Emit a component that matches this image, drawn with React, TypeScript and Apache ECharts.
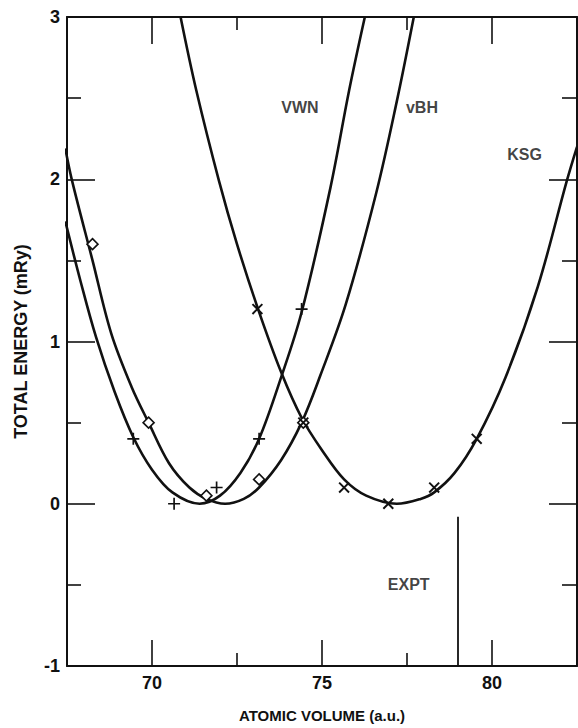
import { useEffect, useRef } from "react";
import * as echarts from "echarts";

// ---- data ----
const vwnCurve: number[][] = [
  [67.45, 1.74], [67.9, 1.37], [68.35, 1.03], [68.9, 0.69], [69.45, 0.41], [70.0, 0.21],
  [70.6, 0.07], [71.4, 0.0], [72.0, 0.05], [72.6, 0.19], [73.15, 0.4], [73.8, 0.78],
  [74.4, 1.18], [75.25, 1.95], [75.8, 2.55], [76.26, 3.0],
];
const vbhCurve: number[][] = [
  [67.45, 2.19], [67.65, 1.99], [68.25, 1.5], [68.8, 1.05], [69.4, 0.72], [69.9, 0.5],
  [70.5, 0.25], [71.1, 0.1], [71.6, 0.03], [72.15, 0.0], [72.7, 0.03], [73.15, 0.1],
  [73.8, 0.27], [74.4, 0.5], [74.95, 0.79], [75.7, 1.23], [76.6, 1.92], [77.2, 2.48], [77.7, 3.0],
];
const ksgCurve: number[][] = [
  [70.84, 3.0], [71.3, 2.55], [71.97, 1.99], [72.5, 1.6], [73.12, 1.2], [73.8, 0.81],
  [74.4, 0.53], [75.0, 0.33], [75.65, 0.15], [76.3, 0.05], [77.2, 0.0], [77.9, 0.03],
  [78.3, 0.07], [78.9, 0.19], [79.55, 0.4], [80.4, 0.78], [81.35, 1.34], [82.2, 1.99], [82.5, 2.2],
];
const vwnPoints: number[][] = [[69.45, 0.4], [70.65, 0.0], [71.9, 0.1], [73.15, 0.4], [74.4, 1.2]];
const vbhPoints: number[][] = [[68.25, 1.6], [69.9, 0.5], [71.6, 0.05], [73.15, 0.15], [74.45, 0.5]];
const ksgPoints: number[][] = [[73.1, 1.2], [74.45, 0.5], [75.65, 0.1], [76.95, 0.0], [78.3, 0.1], [79.55, 0.4]];

const curveLabels = ["VWN", "vBH", "KSG"];
const curveLabelPos: number[][] = [[74.35, 2.44], [77.94, 2.44], [80.96, 2.15]];
const exptLabel = "EXPT";
const exptLabelPos: number[] = [77.55, -0.5];
const exptLine: number[][] = [[79.0, -1], [79.0, -0.08]];

const xMajorTicks = [70, 75, 80];
const xMinorTicks = [72.5, 77.5];
const yMajorTicks = [-1, 0, 1, 2, 3];
const yMinorTicks = [-0.5, 0.5, 1.5, 2.5];

const FONT = "Liberation Sans";
const INK = "#111";

const plusPath =
  "path://M-1,-0.14L1,-0.14L1,0.14L-1,0.14Z M-0.14,-1L0.14,-1L0.14,1L-0.14,1Z";

export default function App() {
  const ref = useRef<HTMLDivElement>(null);
  useEffect(() => {
    if (!ref.current) return;
    const chart = echarts.init(ref.current, undefined, { renderer: "svg" });

    const lineStyle = { color: INK, width: 2 };
    const xBase = { type: "value", min: 67.5, max: 82.5, splitLine: { show: false }, gridIndex: 0 };
    const yBase = { type: "value", min: -1, max: 3, splitLine: { show: false }, gridIndex: 0 };
    const tickStyle = { color: INK, width: 1.6 };

    const curve = (data: number[][]) => ({
      type: "line",
      data,
      smooth: 0.35,
      showSymbol: false,
      symbol: "none",
      lineStyle: { color: INK, width: 2.6 },
      z: 2,
      silent: true,
    });

    chart.setOption({
      animation: false,
      backgroundColor: "#fff",
      grid: { left: 67, top: 17, width: 510, height: 651, containLabel: false },
      xAxis: [
        {
          ...xBase,
          position: "bottom",
          axisLine: { show: true, onZero: false, lineStyle },
          axisTick: { show: true, inside: true, length: 26, customValues: xMajorTicks, lineStyle: tickStyle },
          axisLabel: { show: true, customValues: xMajorTicks, fontFamily: FONT, fontSize: 18, fontWeight: "bold", color: INK, margin: 8 },
          name: "ATOMIC VOLUME (a.u.)",
          nameLocation: "middle",
          nameGap: 42,
          nameTextStyle: { fontFamily: FONT, fontSize: 15, fontWeight: "bold", color: INK },
        },
        {
          ...xBase,
          position: "bottom",
          axisLine: { show: false, onZero: false },
          axisTick: { show: true, inside: true, length: 13, customValues: xMinorTicks, lineStyle: tickStyle },
          axisLabel: { show: false },
        },
        {
          ...xBase,
          position: "top",
          axisLine: { show: true, onZero: false, lineStyle },
          axisTick: { show: true, inside: true, length: 27, customValues: xMajorTicks, lineStyle: tickStyle },
          axisLabel: { show: false },
        },
        {
          ...xBase,
          position: "top",
          axisLine: { show: false, onZero: false },
          axisTick: { show: true, inside: true, length: 13, customValues: xMinorTicks, lineStyle: tickStyle },
          axisLabel: { show: false },
        },
      ],
      yAxis: [
        {
          ...yBase,
          position: "left",
          axisLine: { show: true, onZero: false, lineStyle },
          axisTick: { show: true, inside: true, length: 28, customValues: yMajorTicks, lineStyle: tickStyle },
          axisLabel: { show: true, customValues: yMajorTicks, fontFamily: FONT, fontSize: 18, fontWeight: "bold", color: INK, margin: 7, formatter: (v: number) => (v < 0 ? "-" + Math.abs(v) : String(v)) },
          name: "TOTAL ENERGY (mRy)",
          nameLocation: "middle",
          nameGap: 37,
          nameTextStyle: { fontFamily: FONT, fontSize: 18, fontWeight: "bold", color: INK },
        },
        {
          ...yBase,
          position: "left",
          axisLine: { show: false, onZero: false },
          axisTick: { show: true, inside: true, length: 14, customValues: yMinorTicks, lineStyle: tickStyle },
          axisLabel: { show: false },
        },
        {
          ...yBase,
          position: "right",
          axisLine: { show: true, onZero: false, lineStyle },
          axisTick: { show: true, inside: true, length: 28, customValues: yMajorTicks, lineStyle: tickStyle },
          axisLabel: { show: false },
        },
        {
          ...yBase,
          position: "right",
          axisLine: { show: false, onZero: false },
          axisTick: { show: true, inside: true, length: 15, customValues: yMinorTicks, lineStyle: tickStyle },
          axisLabel: { show: false },
        },
      ],
      series: [
        curve(vwnCurve),
        curve(vbhCurve),
        curve(ksgCurve),
        {
          type: "line",
          data: exptLine,
          symbol: "none",
          lineStyle: { color: INK, width: 1.8 },
          silent: true,
        },
        {
          type: "scatter",
          data: vwnPoints,
          symbol: plusPath,
          symbolSize: 12,
          itemStyle: { color: INK, opacity: 1 },
          z: 5,
          silent: true,
        },
        {
          type: "scatter",
          data: ksgPoints,
          symbol: plusPath,
          symbolSize: 14,
          symbolRotate: 45,
          itemStyle: { color: INK, opacity: 1 },
          z: 5,
          silent: true,
        },
        {
          type: "scatter",
          data: vbhPoints,
          symbol: "diamond",
          symbolSize: 11,
          itemStyle: { color: "#fff", borderColor: INK, borderWidth: 1.6, opacity: 1 },
          z: 4,
          silent: true,
        },
        {
          type: "scatter",
          data: [
            ...curveLabelPos.map((p, i) => ({ value: p, name: curveLabels[i] })),
            { value: exptLabelPos, name: exptLabel },
          ],
          symbol: "circle",
          symbolSize: 1,
          itemStyle: { color: "rgba(0,0,0,0)" },
          silent: true,
          label: {
            show: true,
            position: "inside",
            formatter: (p: any) => p.name,
            fontFamily: FONT,
            fontSize: 16,
            fontWeight: "bold",
            color: INK,
          },
          z: 6,
        },
      ],
    });
    return () => chart.dispose();
  }, []);

  return (
    <div
      ref={ref}
      style={{ position: "fixed", left: 0, top: 0, width: 578, height: 728, background: "#fff" }}
    />
  );
}
